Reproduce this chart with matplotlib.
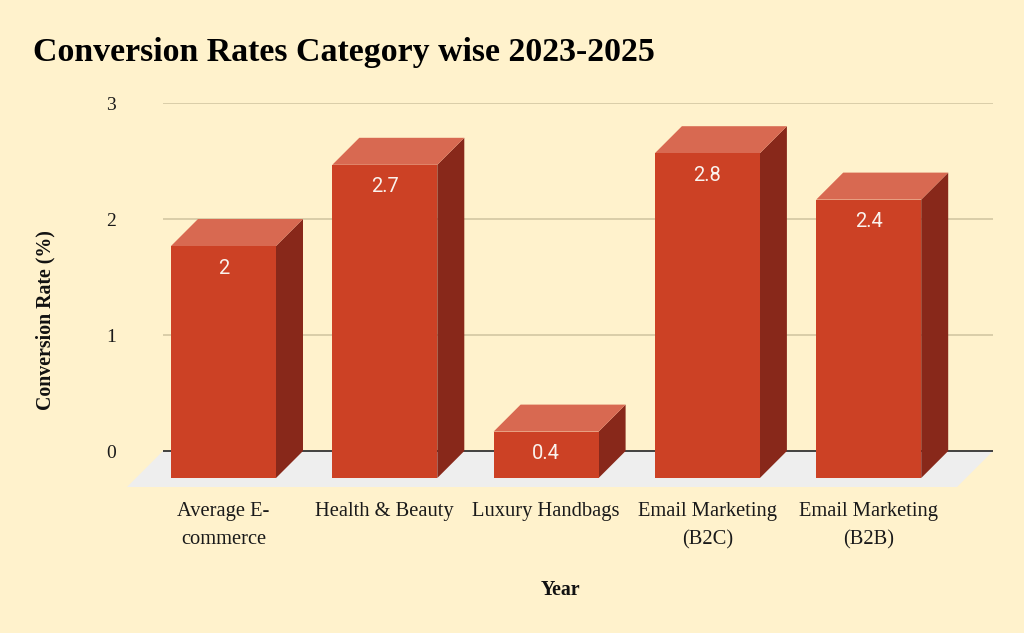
import matplotlib
matplotlib.use("Agg")
import matplotlib.pyplot as plt
from matplotlib.patches import Polygon, Rectangle
import numpy as np

categories = ["Average E-\ncommerce", "Health & Beauty", "Luxury Handbags",
              "Email Marketing\n(B2C)", "Email Marketing\n(B2B)"]
values = [2.0, 2.7, 0.4, 2.8, 2.4]
value_labels = ["2", "2.7", "0.4", "2.8", "2.4"]
yticks = [0, 1, 2, 3]

BG = "#FFF2CC"
FRONT = "#CC4125"
TOP = "#D86951"
SIDE = "#88281A"
GRID = "#D3C7A2"
FLOOR = "#EEEEEE"

W, H = 1024, 633
fig = plt.figure(figsize=(W / 100, H / 100), dpi=100, facecolor=BG)
ax_l, ax_r, ax_t, ax_b = 163, 993, 103, 487
ax = fig.add_axes([ax_l / W, 1 - ax_b / H, (ax_r - ax_l) / W, (ax_b - ax_t) / H])
ax.set_facecolor("none")
for s in ax.spines.values():
    s.set_visible(False)

spacing_px = 161.3
first_back_center_px = 250.5
x0 = (ax_l - first_back_center_px) / spacing_px
x1 = (ax_r - first_back_center_px) / spacing_px
y_per_px = 1 / 116.0
ylo = -(ax_b - 451) * y_per_px
ax.set_xlim(x0, x1)
ax.set_ylim(ylo, 3)

bar_d_px = 27
floor_d_px = 36
ddx = bar_d_px / spacing_px
ddy = bar_d_px * y_per_px
fdx = floor_d_px / spacing_px
fdy = floor_d_px * y_per_px
w = 105 / spacing_px

xs = np.arange(len(values))

for t in yticks[1:]:
    ax.plot([x0, x1], [t, t], color=GRID, lw=1.2, zorder=0)

ax.add_patch(Polygon([(x0, 0), (x1, 0), (x1 - fdx, -fdy), (x0 - fdx, -fdy)],
                     closed=True, facecolor=FLOOR, edgecolor="none", zorder=1,
                     clip_on=False))
ax.plot([x0, x1], [0, 0], color="#333333", lw=1.3, zorder=2)

for i, (c, v) in enumerate(zip(xs, values)):
    xl, xr = c - w / 2, c + w / 2
    ax.add_patch(Polygon([(xr - ddx, -ddy), (xr, 0), (xr, v), (xr - ddx, v - ddy)],
                         closed=True, facecolor=SIDE, edgecolor="none", zorder=3,
                         clip_on=False))
    ax.add_patch(Polygon([(xl - ddx, v - ddy), (xr - ddx, v - ddy), (xr, v), (xl, v)],
                         closed=True, facecolor=TOP, edgecolor="none", zorder=3,
                         clip_on=False))
    ax.add_patch(Rectangle((xl - ddx, -ddy), w, v, facecolor=FRONT,
                           edgecolor="none", zorder=4, clip_on=False))
    ax.text(c - ddx, v - ddy - 22 * y_per_px, value_labels[i], ha="center",
            va="center", color="#FAF3EE", fontsize=14.5, family="Roboto", zorder=5)

ax.set_yticks(yticks)
ax.set_yticklabels([str(t) for t in yticks], family="Liberation Serif", fontsize=14,
                   color="#1a1a1a")
ax.tick_params(axis="y", length=0, pad=34)
ax.set_xticks(xs - ddx)
ax.set_xticklabels(categories, family="Liberation Serif", fontsize=14.8,
                   color="#1a1a1a", linespacing=1.6, va="top")
ax.tick_params(axis="x", length=0, pad=11)

fig.text(33 / W, 1 - 52 / H, "Conversion Rates Category wise 2023-2025",
         family="Liberation Serif", fontweight="bold", fontsize=24.4,
         ha="left", va="center", color="black")
fig.text(45 / W, 1 - 320 / H, "Conversion Rate (%)", family="Liberation Serif",
         fontweight="bold", fontsize=14.3, rotation=90, ha="center", va="center",
         color="#111111")
fig.text(560 / W, 1 - 590 / H, "Year", family="Liberation Serif",
         fontweight="bold", fontsize=14.3, ha="center", va="center", color="#111111")

fig.savefig("out.png", dpi=100, facecolor=BG)
